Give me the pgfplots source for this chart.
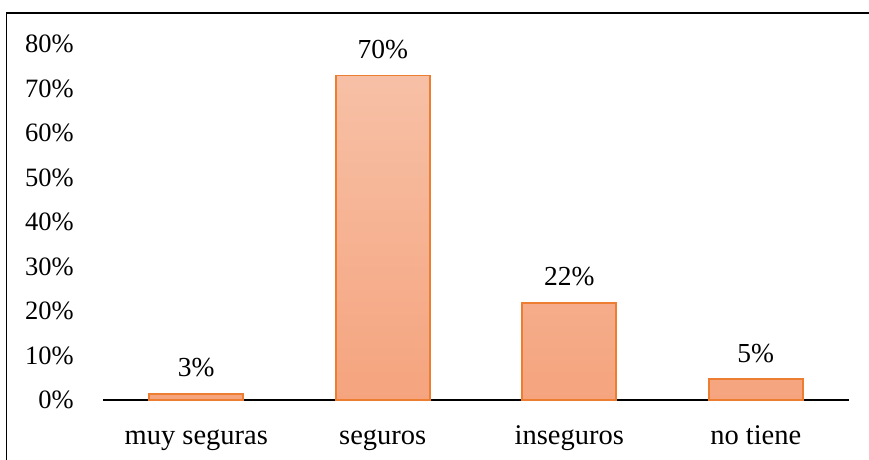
\documentclass[border=0pt]{standalone}
\usepackage{pgfplots}
\pgfplotsset{compat=1.18}
\usepackage{fontspec}
\setmainfont{Liberation Serif}
\definecolor{barTop}{HTML}{F7C0A6}
\definecolor{barBot}{HTML}{F5A47E}
\definecolor{barEdge}{HTML}{ED7D31}
\begin{document}
\begin{tikzpicture}[font=\fontsize{26}{31}\selectfont]
\useasboundingbox (0,0) rectangle (869pt,459pt);
\draw[line width=1.6pt] (6.5pt,-1pt) -- (6.5pt,446pt) -- (870pt,446pt);
\begin{axis}[
  at={(103pt,59pt)}, anchor=south west,
  scale only axis, width=746pt, height=356pt,
  xmin=-0.5, xmax=3.5, ymin=0, ymax=80,
  axis x line*=bottom, axis y line*=left,
  x axis line style={-, line width=1.3pt, black},
  y axis line style={draw=none},
  major tick length=0pt,
  xtick={0,1,2,3},
  xticklabels={muy seguras, seguros, inseguros, no tiene},
  ytick={0,10,20,30,40,50,60,70,80},
  yticklabels={0\%,10\%,20\%,30\%,40\%,50\%,60\%,70\%,80\%},
  xticklabel style={anchor=base, inner sep=0pt, yshift=-44pt, font=\fontsize{28.5}{33}\selectfont},
  yticklabel style={anchor=east, inner sep=0pt, xshift=-29pt, font=\fontsize{26.5}{31}\selectfont},
  clip=false,
  ybar, bar width=94pt,
  point meta=explicit symbolic,
  nodes near coords,
  every node near coord/.append style={anchor=base, inner sep=0pt, yshift=17pt, font=\fontsize{27.5}{32}\selectfont, black},
]
\addplot[ybar, draw=barEdge, line width=1.6pt, top color=barTop, bottom color=barBot]
  coordinates {(0,1.4) [3\%] (1,72.9) [70\%] (2,21.8) [22\%] (3,4.7) [5\%]};
\end{axis}
\end{tikzpicture}
\end{document}
